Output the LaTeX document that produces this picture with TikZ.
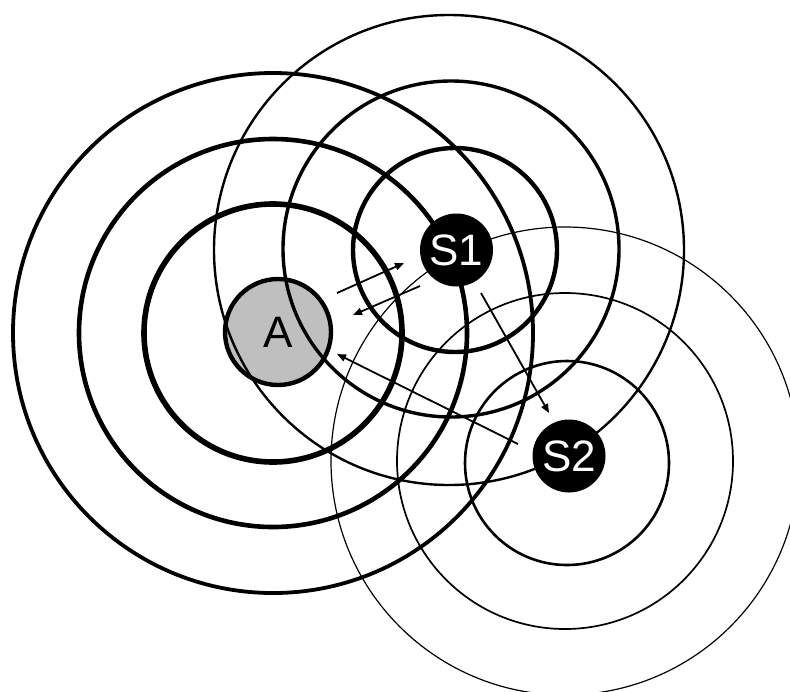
\documentclass[tikz,border=0pt]{standalone}
\usepackage{fontspec}
\setmainfont{Liberation Sans}
\usetikzlibrary{arrows.meta}

\tikzset{
    source/.style={circle, draw=black, line width=2.2pt, fill=gray!50, inner sep=0pt,
        minimum size=53pt, font=\fontsize{22}{26}\selectfont},
    relay/.style={circle, fill=black, text=white, inner sep=0pt,
        minimum size=36.5pt, font=\fontsize{22}{26}\selectfont},
    link/.style={line width=0.9pt, -{Triangle[length=4.5pt,width=3.6pt]}}
}

\begin{document}
\begin{tikzpicture}[x=0.5pt, y=-0.5pt]
    \useasboundingbox (0,0) rectangle (790,691);
    \clip (0,0) rectangle (790,691);

    % Source
    \node[source] (A) at (278,332) {A};

    % Rings of A
    \foreach \r/\w in {129/2.8pt, 194/2.3pt, 260/1.9pt} {
        \draw[line width=\w] (273,333) circle (\r);
    }

    % Rings of S1
    \foreach \cx/\cy/\r/\w in {455/250/102/2.2pt, 451/249/168/1.7pt, 449/250/235/1.2pt} {
        \draw[line width=\w] (\cx,\cy) circle (\r);
    }

    % Rings of S2
    \foreach \cx/\cy/\r/\w in {567/463/102/1.3pt, 565/461/168/0.85pt, 565/461/234/0.6pt} {
        \draw[line width=\w] (\cx,\cy) circle (\r);
    }

    % Relays
    \node[relay] (S1) at (456.5,250) {S1};
    \node[relay] (S2) at (569,456) {S2};

    % Messages
    \coordinate (a1) at (337,293);
    \coordinate (a2) at (404,263);
    \coordinate (b1) at (420,286);
    \coordinate (b2) at (353,315);
    \coordinate (c1) at (481,293);
    \coordinate (c2) at (549,413);
    \coordinate (d1) at (518,444);
    \coordinate (d2) at (337,354);

    \draw[link] (a1) -- (a2);
    \draw[link] (b1) -- (b2);
    \draw[link] (c1) -- (c2);
    \draw[link] (d1) -- (d2);
\end{tikzpicture}
\end{document}
